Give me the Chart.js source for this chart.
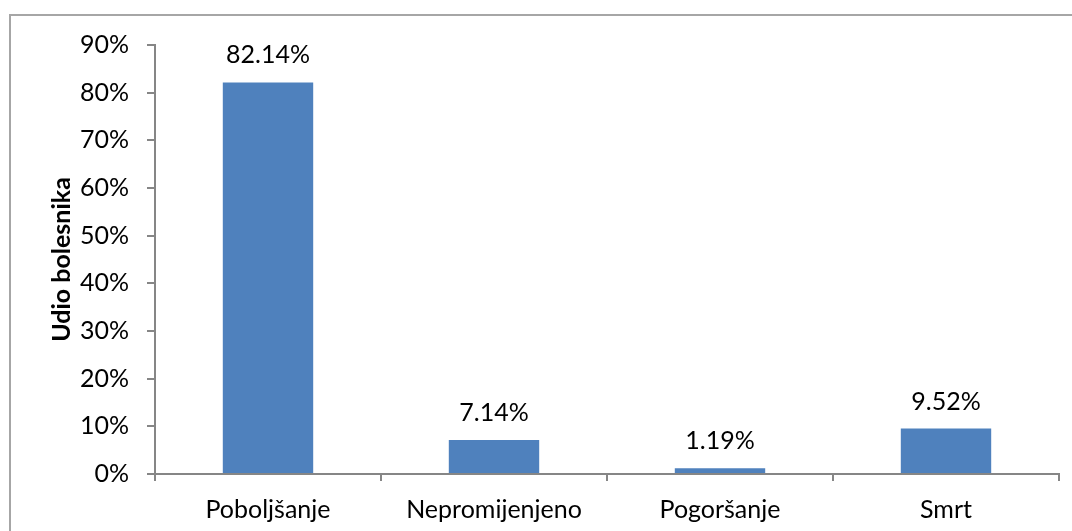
<!DOCTYPE html>
<html>
<head>
<meta charset="utf-8">
<script src="https://cdn.jsdelivr.net/npm/chart.js@4/dist/chart.umd.min.js"></script>
<style>
  html, body { margin: 0; padding: 0; background: #fff; }
  #wrap { position: relative; width: 1072px; height: 531px; overflow: hidden; }
  #frame { position: absolute; left: 9px; top: 14px; width: 1080px; height: 540px;
           border-left: 2px solid #a6a6a6; border-top: 2px solid #a6a6a6; box-sizing: border-box; }
  canvas { position: absolute; left: 0; top: 0; }
</style>
</head>
<body>
<div id="wrap">
  <div id="frame"></div>
  <canvas id="c" width="1072" height="531"></canvas>
</div>
<script>
const categories = ["Poboljšanje", "Nepromijenjeno", "Pogoršanje", "Smrt"];
const values = [82.14, 7.14, 1.19, 9.52];
const valueLabels = ["82.14%", "7.14%", "1.19%", "9.52%"];
const yAxisTitle = "Udio bolesnika";
const yMax = 90;
const yStep = 10;

const FONT = "Lato, 'Open Sans', sans-serif";
const AXIS = "#868686";

const dataLabels = {
  id: "dataLabels",
  afterDatasetsDraw(chart) {
    const ctx = chart.ctx;
    const meta = chart.getDatasetMeta(0);
    ctx.save();
    ctx.font = "25px " + FONT;
    ctx.fillStyle = "#000";
    ctx.textAlign = "center";
    ctx.textBaseline = "alphabetic";
    meta.data.forEach((bar, i) => {
      ctx.fillText(valueLabels[i], bar.x, bar.y - 19);
    });
    ctx.restore();
  }
};

new Chart(document.getElementById("c"), {
  type: "bar",
  data: {
    labels: categories,
    datasets: [{
      data: values,
      backgroundColor: "#4F81BD",
      borderWidth: 0,
      barPercentage: 0.4,
      categoryPercentage: 1.0
    }]
  },
  options: {
    responsive: false,
    animation: false,
    devicePixelRatio: 1,
    layout: { padding: { left: 0, top: 45, right: 13, bottom: 0 } },
    plugins: { legend: { display: false }, tooltip: { enabled: false } },
    scales: {
      x: {
        grid: { display: true, drawOnChartArea: false, drawTicks: true, tickLength: 7, color: AXIS, lineWidth: 2, offset: true },
        border: { display: true, color: AXIS, width: 2 },
        ticks: { color: "#000", font: { family: FONT, size: 25 }, padding: 14, maxRotation: 0 },
        afterFit(scale) { scale.height = 57; }
      },
      y: {
        min: 0, max: yMax,
        grid: { display: true, drawOnChartArea: false, drawTicks: true, tickLength: 8, color: AXIS, lineWidth: 2 },
        border: { display: true, color: AXIS, width: 2 },
        ticks: { stepSize: yStep, color: "#000", font: { family: FONT, size: 25 }, padding: 18,
                 callback: v => v + "%" },
        title: { display: true, text: yAxisTitle, color: "#000",
                 font: { family: FONT, size: 25, weight: "bold", lineHeight: 1.2 },
                 padding: { top: 47, bottom: 0 } },
        afterFit(scale) { scale.width = 155; }
      }
    }
  },
  plugins: [dataLabels]
});
</script>
</body>
</html>
